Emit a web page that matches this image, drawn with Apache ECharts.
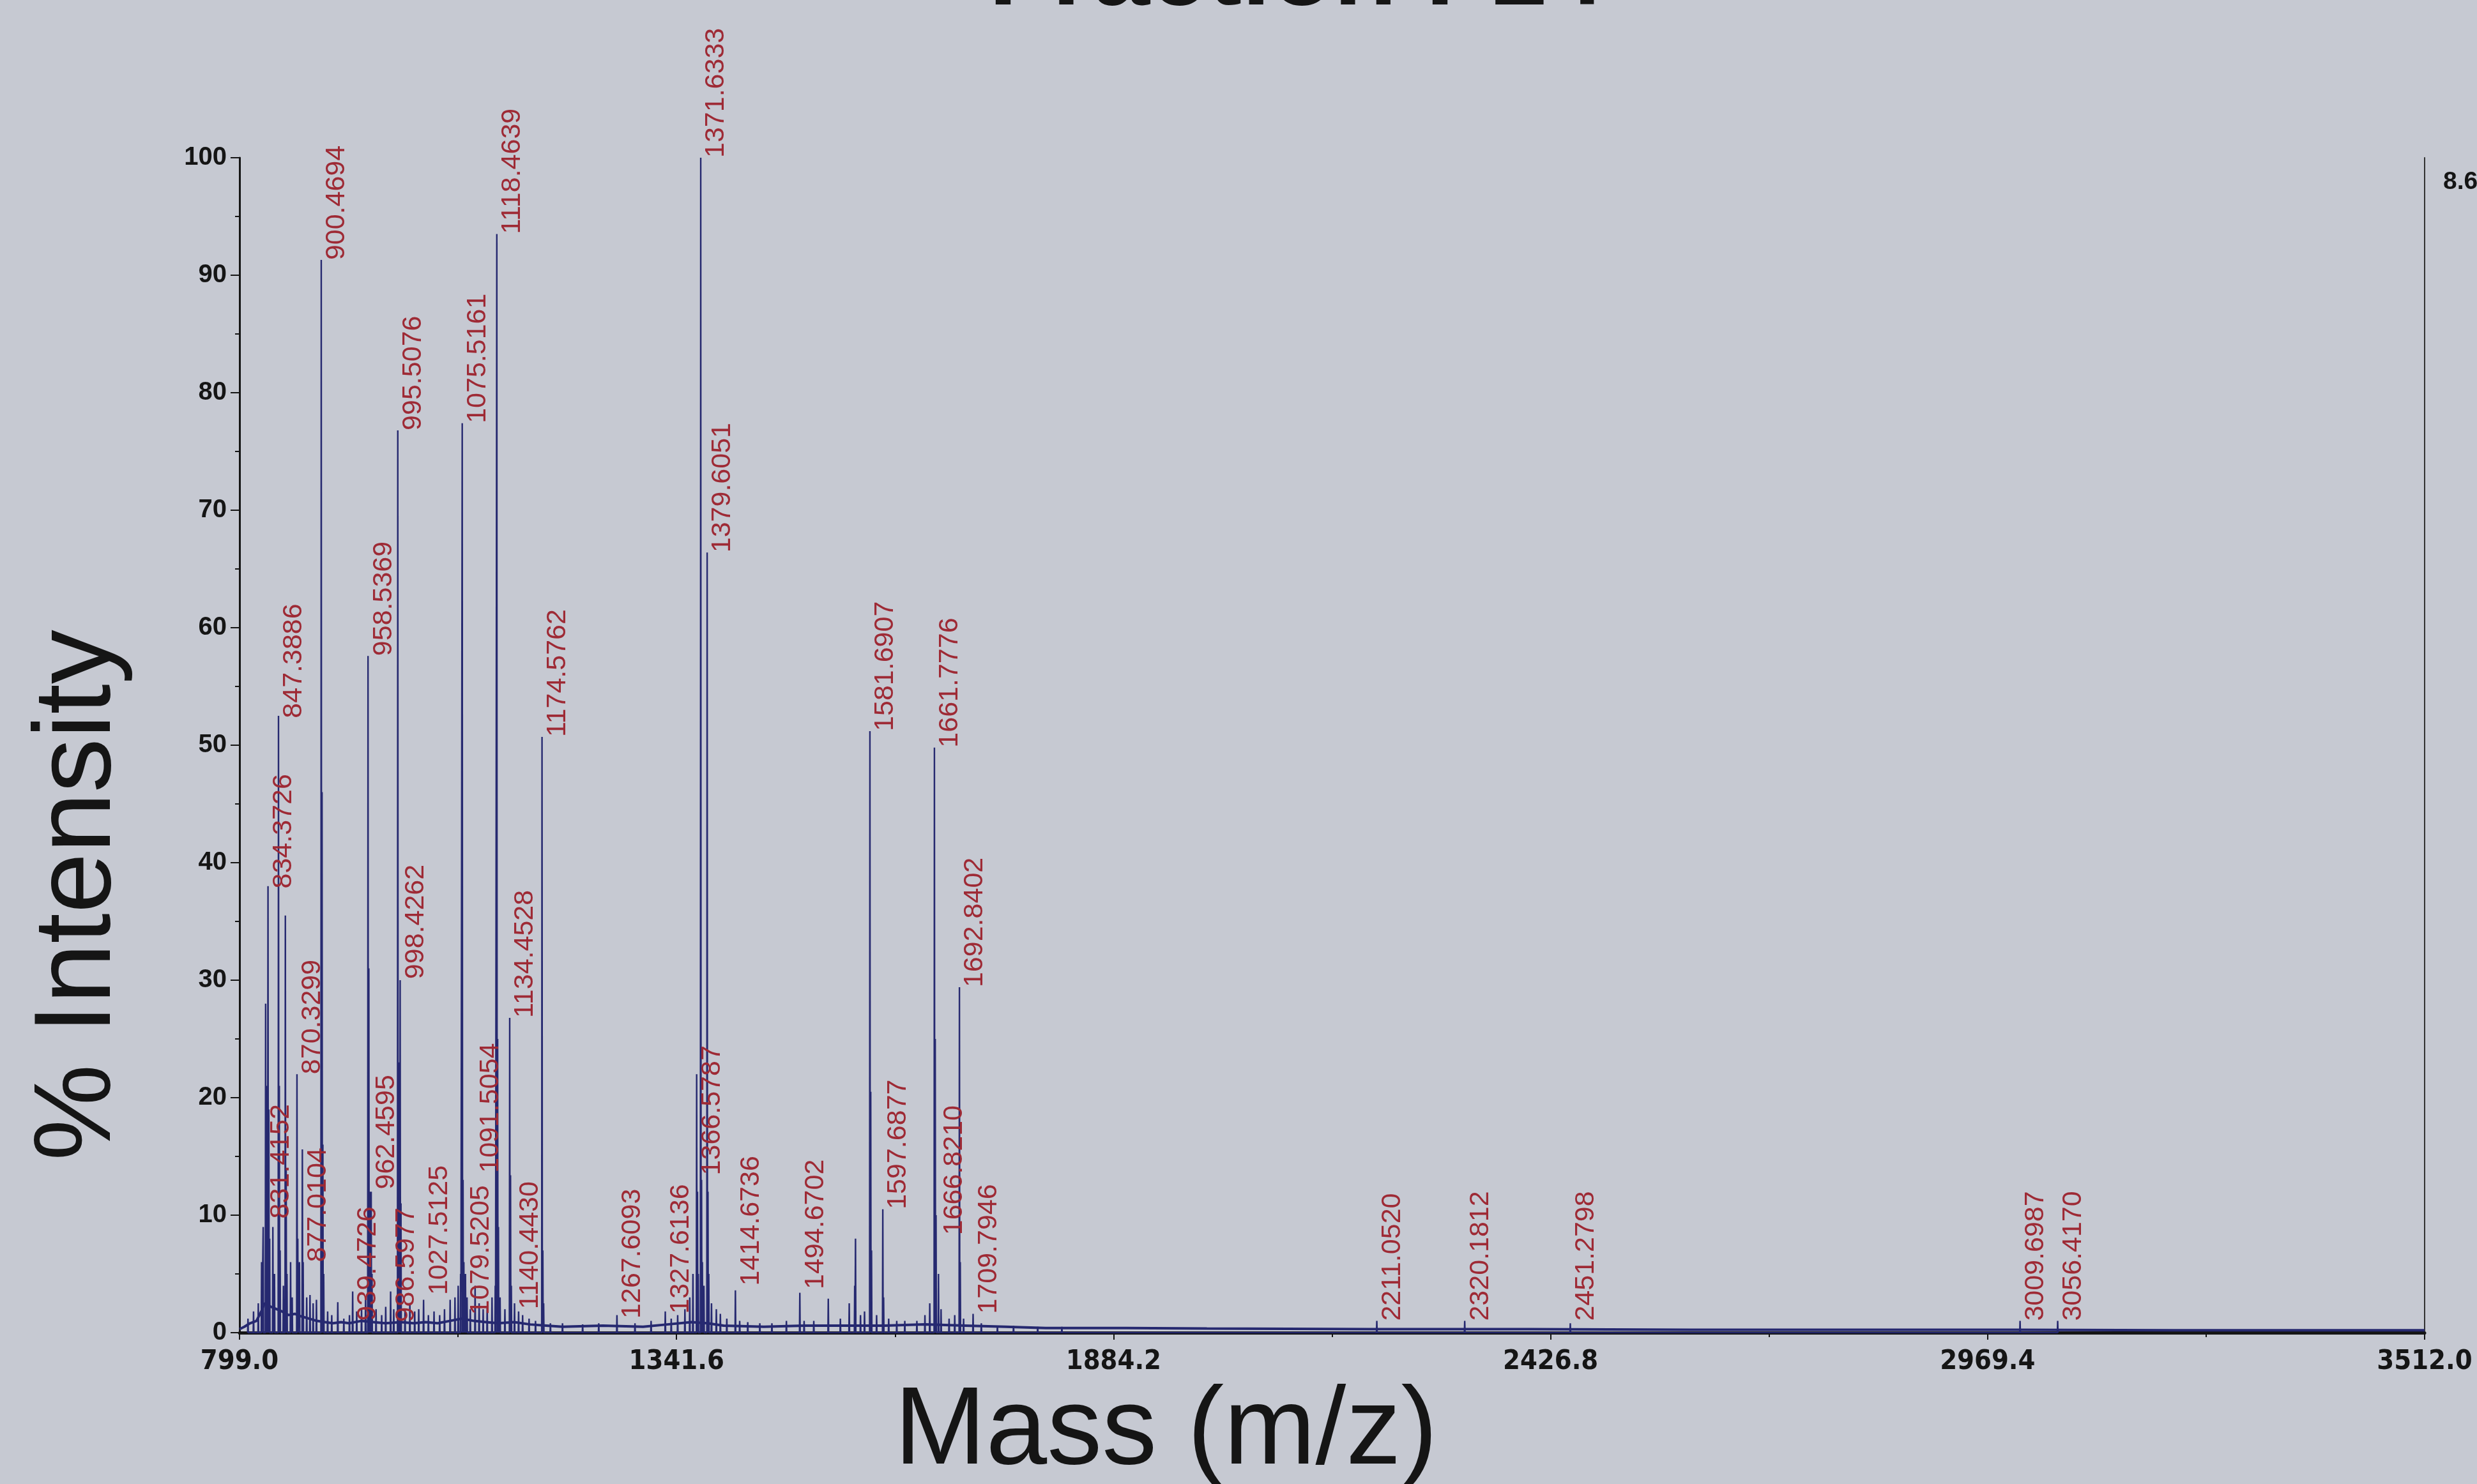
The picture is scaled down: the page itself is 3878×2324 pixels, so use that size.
<!DOCTYPE html>
<html>
<head>
<meta charset="utf-8">
<script src="https://cdn.jsdelivr.net/npm/echarts@6/dist/echarts.min.js"></script>
<style>
html,body{margin:0;padding:0;background:#c6c9d2;}
#chart{width:3878px;height:2324px;}
</style>
</head>
<body>
<div id="chart"></div>
<script>
// ---------------- data ----------------
const titleText = 'Fraction F14';
const xTitle = 'Mass (m/z)';
const yTitle = '% Intensity';
const maxIntensityText = '8.6E+3';

const xMin = 799.0, xMax = 3512.0, xStep = 542.6;
const yMin = 0, yMax = 100, yStep = 10;

// all visible peaks (m/z, % intensity), including unlabeled ones and isotope shoulders
const peakMz = [
  809.5, 816.4, 822.3, 826.4, 828.4, 831.4152, 832.42, 833.4, 834.3726, 835.38, 836.38,
  840.4, 842.4, 847.3886, 848.39, 849.39, 853.5, 855.9, 856.9, 857.9, 862.4, 864.4,
  870.3299, 871.33, 873.4, 877.0104, 878.0, 882.4, 886.5, 890.4, 894.5,
  900.4694, 901.47, 902.47, 903.5, 908.4, 913.5, 921.0, 928.5, 935.5, 939.4726, 944.5,
  950.5, 955.5, 958.5369, 959.54, 960.54, 962.4595, 963.46, 968.5, 975.5, 980.5,
  986.5977, 990.5, 995.5076, 996.51, 997.5, 998.4262, 999.43, 1004.5, 1010.5, 1016.5,
  1021.5, 1027.5125, 1033.5, 1040.5, 1047.5, 1053.5, 1060.5, 1066.5, 1070.5, 1073.5,
  1075.5161, 1076.52, 1077.52, 1079.5205, 1081.5, 1085.5, 1091.5054, 1096.5, 1101.5,
  1106.5, 1112.5, 1116.5, 1118.4639, 1119.47, 1120.47, 1122.5, 1128.5, 1134.4528,
  1135.46, 1136.46, 1140.4430, 1145.5, 1150.5, 1158.5, 1166.5, 1174.5762, 1175.58,
  1176.58, 1185, 1200, 1225, 1245, 1267.6093, 1290, 1310, 1327.6136, 1335, 1343, 1352,
  1358, 1362, 1366.5787, 1367.58, 1368.58, 1371.6333, 1372.64, 1373.64, 1375.6,
  1379.6051, 1380.61, 1381.61, 1385, 1391, 1396, 1404, 1414.6736, 1420, 1430, 1445,
  1460, 1478, 1494.6702, 1500, 1512, 1530, 1545, 1556, 1562.8, 1563.8, 1570, 1575,
  1581.6907, 1582.69, 1583.69, 1590, 1597.6877, 1598.69, 1605, 1615, 1625, 1640, 1650,
  1656, 1661.7776, 1662.78, 1663.78, 1666.8210, 1670, 1680, 1687, 1692.8402, 1693.84,
  1698, 1709.7946, 1720, 1740, 1760, 1790, 1820, 2211.0520, 2320.1812, 2451.2798,
  3009.6987, 3056.4170
];
const peakIntensity = [
  1.2, 1.8, 2.5, 6, 9, 28, 21, 12, 38, 19, 8,
  9, 5, 52.5, 21, 7, 4, 35.5, 14, 5, 6, 3,
  22, 8, 6, 15.6, 6, 3, 3.2, 2.5, 2.8,
  91.3, 46, 16, 5, 1.8, 1.5, 2.6, 1.2, 1.5, 3.5, 1.8,
  2, 3, 57.6, 31, 12, 12, 5, 2, 1.5, 2.2,
  3.5, 2, 76.8, 23, 9, 30, 11, 2, 2.5, 1.8,
  2, 2.8, 1.5, 1.8, 1.5, 2, 2.8, 3, 4, 5,
  77.4, 13, 6, 5, 3, 2, 4, 2.5, 2,
  2.2, 3, 4, 93.5, 25, 9, 3, 2, 26.8,
  13.4, 4, 2.5, 1.8, 1.5, 1.2, 1, 50.7, 7,
  2.5, 0.8, 0.8, 0.7, 0.8, 1.5, 0.8, 1, 1.8, 1.2, 1.5, 2,
  3, 5, 22, 12, 5, 100, 13, 6, 4,
  66.4, 12, 5, 2.5, 2, 1.6, 1.2, 3.6, 1, 0.9, 0.8,
  0.8, 1, 3.4, 1, 1, 2.9, 1.2, 2.5, 4, 8, 1.5, 1.8,
  51.2, 20.5, 7, 1.5, 10.5, 3, 1.2, 1, 1, 1, 1.5,
  2.5, 49.8, 25, 10, 5, 2, 1.2, 1.5, 29.4, 6,
  1.2, 1.6, 0.8, 0.6, 0.6, 0.5, 0.5, 1.0, 1.0, 0.8,
  1.0, 1.0
];

// baseline / chemical noise level along the spectrum
const baselineMz = [799, 805, 812, 820, 826, 830, 838, 845, 852, 860, 868, 875, 885, 895, 905, 915,
  925, 935, 950, 965, 980, 1000, 1015, 1030, 1045, 1060, 1075, 1090, 1105, 1120, 1140, 1160,
  1180, 1200, 1250, 1300, 1330, 1360, 1380, 1400, 1450, 1500, 1550, 1600, 1650, 1700, 1750,
  1800, 1900, 2000, 2200, 2400, 2600, 2800, 3000, 3200, 3400, 3512];
const baselineLevel = [0.3, 0.5, 0.8, 1.0, 1.8, 2.5, 2.2, 2.0, 1.8, 1.5, 1.6, 1.4, 1.2, 1.0, 0.9, 0.8,
  0.9, 0.8, 1.0, 0.9, 0.8, 0.9, 0.8, 0.9, 0.8, 1.0, 1.2, 1.0, 0.9, 0.8, 0.9, 0.7,
  0.6, 0.5, 0.6, 0.5, 0.7, 0.9, 0.8, 0.6, 0.5, 0.6, 0.6, 0.6, 0.7, 0.6, 0.5,
  0.4, 0.4, 0.35, 0.3, 0.3, 0.25, 0.25, 0.25, 0.2, 0.2, 0.2];

// labelled peaks
const labeledMz = [831.4152, 834.3726, 847.3886, 870.3299, 877.0104, 900.4694, 939.4726, 958.5369,
  962.4595, 986.5977, 995.5076, 998.4262, 1027.5125, 1075.5161, 1079.5205, 1091.5054, 1118.4639,
  1134.4528, 1140.4430, 1174.5762, 1267.6093, 1327.6136, 1366.5787, 1371.6333, 1379.6051,
  1414.6736, 1494.6702, 1581.6907, 1597.6877, 1661.7776, 1666.8210, 1692.8402, 1709.7946,
  2211.0520, 2320.1812, 2451.2798, 3009.6987, 3056.4170];

// ---------------- layout (where each label's foot sits, in % intensity) ----------------
const labelFoot = [9.7, 37.8, 52.3, 22, 6, 91.3, 1.0, 57.6,
  12.2, 0.9, 76.8, 30.1, 3.2, 77.4, 1.5, 13.6, 93.5,
  26.8, 2.0, 50.7, 1.2, 1.6, 13.4, 100, 66.4,
  4.0, 3.7, 51.2, 10.5, 49.8, 8.3, 29.4, 1.6,
  1.0, 1.0, 1.0, 1.0, 1.0];

// ---------------- build series ----------------
const order = peakMz.map((m, i) => i).sort((a, b) => peakMz[a] - peakMz[b]);
const half = 0.4;
const stickData = [];
order.forEach(i => {
  const m = peakMz[i] - xMin;
  stickData.push([m - half, 0], [m, peakIntensity[i]], [m + half, 0]);
});
const baseData = baselineMz.map((m, i) => [m - xMin, baselineLevel[i]]);
const labelData = labeledMz.map((m, i) => [m - xMin, labelFoot[i]]);

const FONT = '"Liberation Sans", Arial, Helvetica, sans-serif';
const NARROW = '"DejaVu Sans Condensed", "Liberation Sans", sans-serif';
const ink = '#151515';
const navy = '#262970';
const red = '#9e2a35';

const chart = echarts.init(document.getElementById('chart'), null, {renderer: 'canvas'});
chart.setOption({
  backgroundColor: '#c6c9d2',
  animation: false,
  title: {
    text: titleText,
    left: 1543,
    top: -124,
    textStyle: {fontFamily: FONT, fontWeight: 'bold', fontSize: 162, color: ink}
  },
  grid: {left: 375, right: 82, top: 247, bottom: 237, containLabel: false, outerBoundsMode: 'none'},
  xAxis: {
    type: 'value',
    min: 0,
    max: xMax - xMin,
    interval: xStep,
    name: xTitle,
    nameLocation: 'middle',
    nameGap: 40,
    nameTextStyle: {fontFamily: FONT, fontSize: 172, color: ink, padding: [0, 520, 0, 0]},
    axisLine: {show: true, onZero: false, lineStyle: {color: ink, width: 5}},
    axisTick: {show: true, length: 11, lineStyle: {color: ink, width: 2}},
    minorTick: {show: true, splitNumber: 2, length: 7, lineStyle: {color: ink, width: 2}},
    splitLine: {show: false},
    minorSplitLine: {show: false},
    axisLabel: {
      margin: 24,
      fontFamily: NARROW,
      fontWeight: 'bold',
      fontSize: 43,
      color: ink,
      showMinLabel: true,
      showMaxLabel: true,
      formatter: v => (v + xMin).toFixed(1)
    }
  },
  yAxis: [{
    type: 'value',
    min: yMin,
    max: yMax,
    interval: yStep,
    name: yTitle,
    nameLocation: 'middle',
    nameGap: 165,
    nameRotate: 90,
    nameTextStyle: {fontFamily: FONT, fontSize: 170, color: ink, padding: [0, 470, 0, 0]},
    axisLine: {show: true, lineStyle: {color: ink, width: 3}},
    axisTick: {show: true, length: 14, lineStyle: {color: ink, width: 2}},
    minorTick: {show: true, splitNumber: 2, length: 7, lineStyle: {color: ink, width: 2}},
    splitLine: {show: false},
    axisLabel: {margin: 20, fontFamily: FONT, fontWeight: 'bold', fontSize: 40, color: ink}
  }, {
    type: 'value',
    position: 'right',
    min: yMin,
    max: yMax,
    axisLine: {show: true, lineStyle: {color: '#333', width: 2}},
    axisTick: {show: false},
    axisLabel: {show: false},
    splitLine: {show: false}
  }],
  graphic: [{
    type: 'text',
    left: 3825,
    top: 266,
    style: {text: maxIntensityText, font: 'bold 39px ' + FONT, fill: ink}
  }],
  series: [{
    type: 'line',
    name: 'baseline',
    data: baseData,
    showSymbol: false,
    silent: true,
    lineStyle: {color: navy, width: 4},
    z: 2
  }, {
    type: 'line',
    name: 'spectrum',
    data: stickData,
    showSymbol: false,
    silent: true,
    lineStyle: {color: navy, width: 2.4},
    z: 3
  }, {
    type: 'custom',
    name: 'peak labels',
    data: labelData,
    clip: false,
    z: 5,
    renderItem: function (params, api) {
      const p = api.coord([api.value(0), api.value(1)]);
      return {
        type: 'text',
        x: p[0] + 3,
        y: p[1],
        rotation: Math.PI / 2,
        style: {
          text: labeledMz[params.dataIndex].toFixed(4),
          fill: red,
          font: '43px ' + FONT,
          align: 'left',
          verticalAlign: 'top'
        }
      };
    }
  }]
});
</script>
</body>
</html>
